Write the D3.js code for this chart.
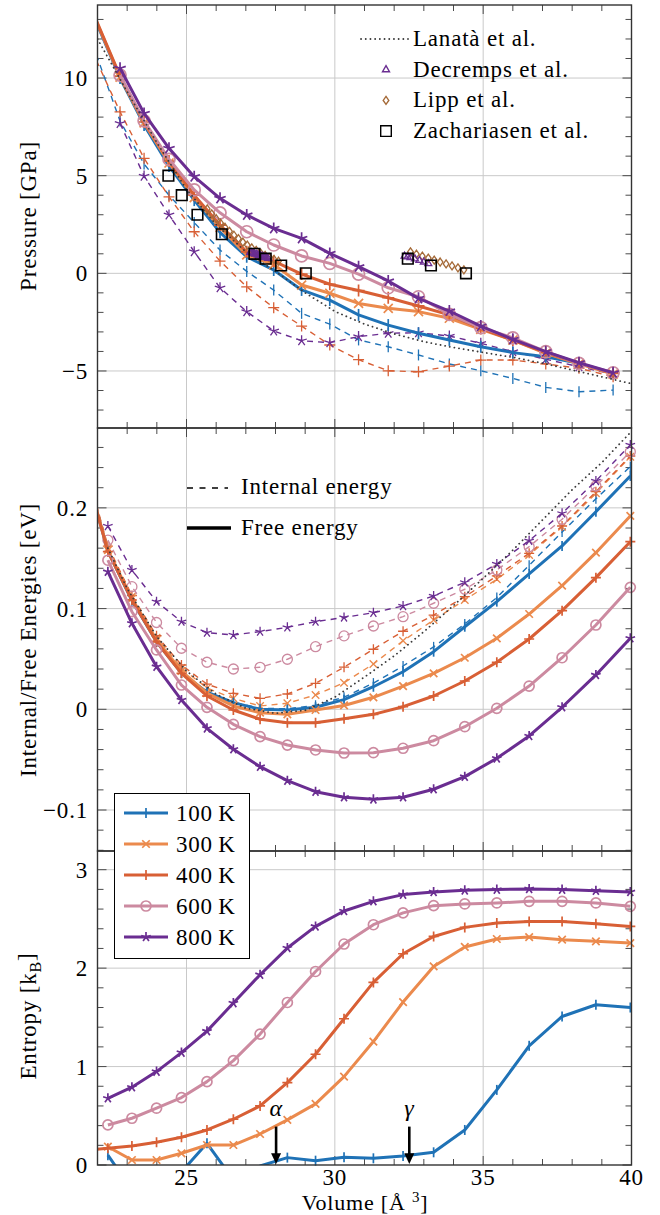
<!DOCTYPE html>
<html>
<head>
<meta charset="utf-8">
<script src="https://cdn.jsdelivr.net/npm/d3@7"></script>
</head>
<body style="margin:0;background:#fff">
<svg id="chart" width="660" height="1215"></svg>
<script>
// ---- data -------------------------------------------------------------
// volume grid (A^3) of the energies / entropy, first point lies left of the axis
const volumes = [21.57, 22.35, 23.16, 23.99, 24.83, 25.69, 26.58, 27.48, 28.40, 29.35,
                 30.31, 31.30, 32.30, 33.33, 34.38, 35.46, 36.55, 37.66, 38.80, 39.96];
// pressures are taken between grid points
const pressureVolumes = [21.96, 22.76, 23.57, 24.41, 25.26, 26.13, 27.03, 27.94, 28.88, 29.83,
                         30.80, 31.80, 32.82, 33.86, 34.92, 36.00, 37.11, 38.23, 39.38];

const tempLabels = ["100\u2009K", "300\u2009K", "400\u2009K", "600\u2009K", "800\u2009K"];
const tempColors = ["#1f72b6", "#eb8a4d", "#d85f35", "#cc8aa0", "#6a2d91"];
const tempMarks  = ["bar", "x", "plus", "circle", "star"];

// pressure from free energy (solid) [GPa]
const pFree100 = [12.85, 10.0, 7.6, 5.5, 3.75, 2.1, 0.85, 0.17, -0.85, -1.37, -2.13, -2.65, -3.07, -3.41, -3.76, -4.06, -4.27, -4.61, -5.12];
const pFree300 = [12.9, 10.05, 7.7, 5.65, 3.88, 2.35, 0.94, 0.45, -0.60, -1.02, -1.54, -1.79, -1.96, -2.30, -2.87, -3.42, -4.10, -4.64, -5.16];
const pFree400 = [12.95, 10.1, 7.75, 5.75, 4.0, 2.47, 1.1, 0.62, -0.04, -0.56, -0.88, -1.25, -1.67, -2.13, -2.82, -3.42, -4.06, -4.61, -5.12];
const pFree600 = [null, 10.15, 7.81, 5.84, 4.27, 3.10, 2.13, 1.45, 0.89, 0.51, -0.04, -0.74, -1.20, -2.10, -2.78, -3.30, -4.01, -4.61, -5.09];
const pFree800 = [null, 10.50, 8.19, 6.40, 4.95, 3.84, 2.99, 2.30, 1.79, 1.02, 0.34, -0.39, -1.28, -1.93, -2.70, -3.38, -4.01, -4.58, -5.09];
// pressure from internal energy (dashed) [GPa]
const pInt100 = [11.2, 7.8, 5.6, 4.0, 2.6, 1.19, 0.1, -0.86, -2.05, -2.6, -3.41, -3.76, -4.18, -4.64, -4.99, -5.38, -5.84, -6.06, -5.98];
const pInt400 = [10.9, 8.27, 5.89, 3.92, 2.13, 0.63, -0.69, -1.76, -2.70, -3.67, -4.42, -4.99, -5.04, -4.75, -4.44, -4.44, -4.64, -4.86, -5.29];
const pInt800 = [null, 7.68, 4.98, 2.99, 1.11, -0.74, -1.96, -2.95, -3.45, -3.55, -3.24, -3.07, -3.04, -3.21, -3.58, -4.01, -4.40, -4.78, -5.16];

// free energies (solid) [eV]
const f100 = [0.24, 0.157, 0.108, 0.067, 0.036, 0.017, 0.0066, 0.0, -0.0007, 0.002, 0.0096, 0.0224, 0.0373, 0.0572, 0.082, 0.1069, 0.1344, 0.1622, 0.1962, 0.2317];
const f300 = [0.24, 0.158, 0.110, 0.069, 0.038, 0.016, 0.0033, -0.0034, -0.005, -0.0007, 0.0038, 0.0119, 0.0231, 0.0357, 0.0512, 0.0705, 0.0946, 0.1227, 0.1555, 0.1920];
const f400 = [0.24, 0.1565, 0.1085, 0.0671, 0.0357, 0.0132, -0.0007, -0.0099, -0.0133, -0.0133, -0.0094, -0.005, 0.0026, 0.0132, 0.0281, 0.0467, 0.0698, 0.0979, 0.1307, 0.1664];
const f600 = [null, 0.148, 0.0969, 0.0589, 0.0241, 0.0020, -0.0149, -0.0272, -0.0355, -0.0404, -0.0434, -0.0431, -0.0387, -0.0312, -0.0173, 0.0010, 0.0231, 0.0512, 0.0837, 0.1211];
const f800 = [null, 0.1366, 0.0854, 0.0423, 0.0092, -0.0189, -0.0397, -0.057, -0.0709, -0.0818, -0.0874, -0.0894, -0.0874, -0.0794, -0.0669, -0.0487, -0.0265, 0.0020, 0.0341, 0.0705];
// internal energies (dashed) [eV]
const u100 = [0.245, 0.157, 0.108, 0.067, 0.036, 0.017, 0.007, 0.001, 0.0005, 0.004, 0.012, 0.026, 0.043, 0.062, 0.0847, 0.111, 0.143, 0.176, 0.209, 0.241];
const u300 = [0.245, 0.16, 0.112, 0.071, 0.041, 0.021, 0.0109, 0.0033, 0.006, 0.0142, 0.0264, 0.045, 0.068, 0.0887, 0.1085, 0.1291, 0.1532, 0.1813, 0.2145, 0.2508];
const u400 = [0.245, 0.162, 0.113, 0.073, 0.044, 0.025, 0.0159, 0.0109, 0.0152, 0.0258, 0.0418, 0.0596, 0.0775, 0.0936, 0.1118, 0.1324, 0.1549, 0.182, 0.2161, 0.2515];
const u600 = [null, 0.168, 0.1218, 0.0862, 0.0606, 0.0467, 0.040, 0.0417, 0.0497, 0.0622, 0.0729, 0.0827, 0.092, 0.1053, 0.1192, 0.1383, 0.1615, 0.1887, 0.2217, 0.2558];
const u800 = [null, 0.182, 0.1383, 0.1069, 0.087, 0.0761, 0.0738, 0.0771, 0.0814, 0.087, 0.0912, 0.0959, 0.1026, 0.1125, 0.1261, 0.1443, 0.1674, 0.1946, 0.2267, 0.2625];

// entropy [k_B]
const s100 = [null, 0.10, -0.25, -0.15, -0.07, 0.22, -0.15, -0.01, 0.075, 0.044, 0.078, 0.068, 0.092, 0.129, 0.356, 0.763, 1.211, 1.509, 1.628, 1.60];
const s300 = [null, 0.186, 0.051, 0.051, 0.119, 0.203, 0.203, 0.315, 0.458, 0.621, 0.898, 1.254, 1.655, 2.017, 2.215, 2.296, 2.316, 2.289, 2.272, 2.255];
const s400 = [0.15, 0.17, 0.193, 0.231, 0.282, 0.356, 0.465, 0.60, 0.837, 1.125, 1.486, 1.855, 2.146, 2.322, 2.414, 2.459, 2.475, 2.475, 2.452, 2.424];
const s600 = [null, 0.407, 0.475, 0.577, 0.685, 0.847, 1.061, 1.33, 1.651, 1.966, 2.245, 2.441, 2.561, 2.635, 2.652, 2.662, 2.679, 2.679, 2.662, 2.628];
const s800 = [null, 0.678, 0.79, 0.949, 1.142, 1.36, 1.645, 1.933, 2.204, 2.424, 2.58, 2.679, 2.747, 2.774, 2.79, 2.798, 2.805, 2.798, 2.787, 2.774];

// Lanata et al.
const lanataPV = [22, 23, 24, 25, 26, 27, 28, 29, 30, 31, 32, 33, 34, 35, 36, 37, 38, 39, 40];
const lanataP  = [12.0, 9.3, 6.7, 4.3, 2.5, 1.1, 0.1, -1.0, -1.95, -2.6, -3.1, -3.5, -3.8, -4.05, -4.3, -4.6, -4.95, -5.3, -5.65];
const lanataEV = [22.35, 23, 24, 25, 26, 27, 28, 29, 30, 31, 32, 33, 34, 35, 36, 37, 38, 39, 40];
const lanataE  = [0.16, 0.12, 0.072, 0.038, 0.015, 0.001, -0.004, -0.001, 0.012, 0.032, 0.053, 0.077, 0.103, 0.13, 0.158, 0.188, 0.218, 0.245, 0.276];

// experiments
const zachV = [24.39, 24.84, 25.37, 26.19, 27.29, 27.67, 28.19, 29.02, 32.46, 33.24, 34.42];
const zachP = [5.0, 4.0, 3.0, 2.0, 1.0, 0.75, 0.4, 0.0, 0.75, 0.4, 0.0];
const decrV = [27.15, 27.2, 27.25, 27.3, 27.35, 27.4, 27.45, 27.5, 27.55, 27.6, 27.65, 27.7, 27.75, 32.35, 32.45, 32.55, 32.7, 32.85, 33.0, 33.15];
const decrP = [1.08, 1.06, 1.03, 1.0, 0.98, 0.95, 0.92, 0.9, 0.87, 0.85, 0.82, 0.8, 0.77, 0.88, 0.84, 0.8, 0.74, 0.66, 0.58, 0.5];
const lippV = [25.70, 25.85, 26.00, 26.15, 26.30, 26.45, 26.60, 26.75, 26.90, 27.05, 27.20, 27.35, 27.50, 27.65, 27.80, 27.95, 28.10,
               32.55, 32.75, 32.95, 33.15, 33.35, 33.55, 33.75, 33.95, 34.15, 34.35];
const lippP = [3.30, 3.05, 2.80, 2.57, 2.35, 2.15, 1.95, 1.78, 1.60, 1.45, 1.30, 1.17, 1.04, 0.92, 0.81, 0.71, 0.62,
               1.10, 0.98, 0.88, 0.78, 0.68, 0.58, 0.48, 0.38, 0.28, 0.18];

const phaseNames = ["\u03b1", "\u03b3"];
const phaseVolumes = [28.02, 32.51];

// ---- layout -------------------------------------------------------------
const svg = d3.select("#chart");
const x = d3.scaleLinear().domain([22, 40]).range([97.5, 631.5]);
const xMajor = [25, 30, 35, 40];
const xMinor = d3.range(23, 40).filter(v => v % 5 !== 0);

const panels = [
  { name: "p", y: d3.scaleLinear().domain([-7.92, 13.74]).range([428, 5]),
    major: [-5, 0, 5, 10], minor: d3.range(-7, 14).filter(v => v % 5 !== 0),
    fmt: d => d < 0 ? "\u2212" + Math.abs(d) : "" + d },
  { name: "e", y: d3.scaleLinear().domain([-0.1407, 0.2793]).range([851, 428]),
    major: [-0.1, 0, 0.1, 0.2], minor: d3.range(-7, 14).filter(v => v % 5 !== 0).map(v => v * 0.02),
    fmt: d => d < 0 ? "\u2212" + Math.abs(d) : "" + d },
  { name: "s", y: d3.scaleLinear().domain([0, 3.19]).range([1165, 851]),
    major: [0, 1, 2, 3], minor: d3.range(1, 16).filter(v => v % 5 !== 0).map(v => v * 0.2),
    fmt: d => "" + d }
];

const defs = svg.append("defs");
panels.forEach(p => {
  const [b, t] = p.y.range();
  defs.append("clipPath").attr("id", "clip-" + p.name)
    .append("rect").attr("x", x(22)).attr("y", t).attr("width", x(40) - x(22)).attr("height", b - t);
});

// grid, ticks, tick labels
panels.forEach(p => {
  const [b, t] = p.y.range();
  const g = svg.append("g");
  g.selectAll(".gx").data([25, 30, 35]).join("line")
    .attr("x1", d => x(d)).attr("x2", d => x(d)).attr("y1", t).attr("y2", b)
    .attr("stroke", "#c9c9c9").attr("stroke-width", 1);
  g.selectAll(".gy").data(p.major.filter(v => p.y(v) > t + 1 && p.y(v) < b - 1)).join("line")
    .attr("x1", x(22)).attr("x2", x(40)).attr("y1", d => p.y(d)).attr("y2", d => p.y(d))
    .attr("stroke", "#c9c9c9").attr("stroke-width", 1);

  const tickCol = "#4a4a4a";
  [[xMajor, 9], [xMinor, 6]].forEach(([vals, len]) => {
    g.selectAll(null).data(vals).join("line")
      .attr("x1", d => x(d)).attr("x2", d => x(d)).attr("y1", b).attr("y2", b - len)
      .attr("stroke", tickCol).attr("stroke-width", 1);
    g.selectAll(null).data(vals).join("line")
      .attr("x1", d => x(d)).attr("x2", d => x(d)).attr("y1", t).attr("y2", t + len)
      .attr("stroke", tickCol).attr("stroke-width", 1);
  });
  [[p.major, 9], [p.minor, 6]].forEach(([vals, len]) => {
    const vv = vals.filter(v => p.y(v) >= t && p.y(v) <= b);
    g.selectAll(null).data(vv).join("line")
      .attr("x1", x(22)).attr("x2", x(22) + len).attr("y1", d => p.y(d)).attr("y2", d => p.y(d))
      .attr("stroke", tickCol).attr("stroke-width", 1);
    g.selectAll(null).data(vv).join("line")
      .attr("x1", x(40)).attr("x2", x(40) - len).attr("y1", d => p.y(d)).attr("y2", d => p.y(d))
      .attr("stroke", tickCol).attr("stroke-width", 1);
  });

  g.selectAll(".yl").data(p.major).join("text")
    .attr("x", 88).attr("y", d => p.y(d)).attr("dy", "0.35em")
    .attr("text-anchor", "end").attr("font-size", 23)
    .text(p.fmt);
});

// ---- marks ------------------------------------------------------------
function markPath(type, r) {
  if (type === "bar") return `M0,${-r}V${r}`;
  if (type === "plus") return `M${-r},0H${r}M0,${-r}V${r}`;
  if (type === "x") { const a = r * 0.75; return `M${-a},${-a}L${a},${a}M${-a},${a}L${a},${-a}`; }
  if (type === "star") {
    let s = "";
    for (let k = 0; k < 5; k++) {
      const ang = -Math.PI / 2 + k * 2 * Math.PI / 5;
      s += `M0,0L${(r * Math.cos(ang)).toFixed(2)},${(r * Math.sin(ang)).toFixed(2)}`;
    }
    return s;
  }
  if (type === "square") return `M${-r},${-r}H${r}V${r}H${-r}Z`;
  if (type === "diamond") return `M0,${-r}L${r * 0.7},0L0,${r}L${-r * 0.7},0Z`;
  if (type === "triangle") return `M0,${-r}L${r * 0.87},${r * 0.5}L${-r * 0.87},${r * 0.5}Z`;
  if (type === "circle") return d3.symbol().type(d3.symbolCircle).size(Math.PI * r * r)();
  return "";
}

function drawMarks(g, xs, ys, yScale, type, r, color, sw) {
  const [lo, hi] = yScale.domain();
  const pts = xs.map((v, i) => [v, ys[i]])
    .filter(d => d[1] != null && d[0] >= 22 && d[0] <= 40 && d[1] >= lo && d[1] <= hi);
  g.selectAll(null).data(pts).join("path")
    .attr("transform", d => `translate(${x(d[0])},${yScale(d[1])})`)
    .attr("d", markPath(type, r))
    .attr("fill", "none").attr("stroke", color).attr("stroke-width", sw);
}

function drawSeries(p, xs, ys, color, type, dashed, r) {
  const g = svg.append("g");
  const pts = xs.map((v, i) => [v, ys[i]]);
  g.append("path")
    .attr("clip-path", `url(#clip-${p.name})`)
    .attr("d", d3.line().defined(d => d[1] != null).x(d => x(d[0])).y(d => p.y(d[1]))(pts))
    .attr("fill", "none").attr("stroke", color)
    .attr("stroke-width", dashed ? 1.4 : 3)
    .attr("stroke-dasharray", dashed ? "6,5" : null)
    .attr("stroke-linejoin", "round");
  drawMarks(g, xs, ys, p.y, type, r, color, dashed ? 1.3 : 1.7);
}

function drawDotted(p, xs, ys) {
  const pts = xs.map((v, i) => [v, ys[i]]);
  svg.append("path")
    .attr("clip-path", `url(#clip-${p.name})`)
    .attr("d", d3.line().x(d => x(d[0])).y(d => p.y(d[1]))(pts))
    .attr("fill", "none").attr("stroke", "#3a3a3a").attr("stroke-width", 1.8)
    .attr("stroke-dasharray", "0.1,4.6").attr("stroke-linecap", "round");
}

// pressure panel
const P = panels[0];
[[pInt100, 0], [pInt400, 2], [pInt800, 4]].forEach(([ys, i]) =>
  drawSeries(P, pressureVolumes, ys, tempColors[i], tempMarks[i], true, 5.5));
[pFree100, pFree300, pFree400, pFree600, pFree800].forEach((ys, i) =>
  drawSeries(P, pressureVolumes, ys, tempColors[i], tempMarks[i], false, 6));
drawDotted(P, lanataPV, lanataP);
const expG = svg.append("g");
drawMarks(expG, lippV, lippP, P.y, "diamond", 4, "#a56a38", 1.3);
drawMarks(expG, decrV, decrP, P.y, "triangle", 4, "#6a2d91", 1.3);
drawMarks(expG, zachV, zachP, P.y, "square", 5.3, "#000", 1.6);

// energy panel
const E = panels[1];
[u100, u300, u400, u600, u800].forEach((ys, i) =>
  drawSeries(E, volumes, ys, tempColors[i], tempMarks[i], true, 5));
[f100, f300, f400, f600, f800].forEach((ys, i) =>
  drawSeries(E, volumes, ys, tempColors[i], tempMarks[i], false, 5));
drawDotted(E, lanataEV, lanataE);

// entropy panel
const S = panels[2];
[s100, s300, s400, s600, s800].forEach((ys, i) =>
  drawSeries(S, volumes, ys, tempColors[i], tempMarks[i], false, 5));

// phase arrows
phaseVolumes.forEach((v, i) => {
  const ax = x(v);
  svg.append("line").attr("x1", ax).attr("x2", ax)
    .attr("y1", S.y(0.39)).attr("y2", S.y(0.1))
    .attr("stroke", "#000").attr("stroke-width", 2.6);
  svg.append("path")
    .attr("d", `M${ax - 5},${S.y(0.12)}L${ax + 5},${S.y(0.12)}L${ax},${S.y(0.01)}Z`)
    .attr("fill", "#000");
  svg.append("text").attr("x", ax).attr("y", S.y(0.5))
    .attr("text-anchor", "middle").attr("font-size", 24).attr("font-style", "italic")
    .text(phaseNames[i]);
});

// frames on top
panels.forEach(p => {
  const [b, t] = p.y.range();
  svg.append("rect").attr("x", x(22)).attr("y", t).attr("width", x(40) - x(22)).attr("height", b - t)
    .attr("fill", "none").attr("stroke", "#333").attr("stroke-width", 1.4);
});

// x tick labels
svg.selectAll(".xl").data(xMajor).join("text")
  .attr("x", d => x(d)).attr("y", 1185).attr("text-anchor", "middle").attr("font-size", 23)
  .text(d => d);

// axis labels
const ylab = (cx, cy) => svg.append("text")
  .attr("transform", `translate(${cx},${cy}) rotate(-90)`)
  .attr("text-anchor", "middle").attr("dy", "0.35em").attr("font-size", 23);
ylab(28, 216).text("Pressure [GPa]");
ylab(28, 640).text("Internal/Free Energies [eV]");
const sl = ylab(28, 1016);
sl.append("tspan").text("Entropy [k");
sl.append("tspan").attr("font-size", 16).attr("dy", "0.3em").text("B");
sl.append("tspan").attr("dy", "-0.3em").text("]");
const vl = svg.append("text").attr("x", 365).attr("y", 1210).attr("text-anchor", "middle").attr("font-size", 22);
vl.append("tspan").text("Volume [\u00c5 ");
vl.append("tspan").attr("font-size", 15).attr("dy", -8).text("3");
vl.append("tspan").attr("dy", 8).text("]");

// ---- legends ------------------------------------------------------------
// references legend
svg.append("line").attr("x1", 361).attr("x2", 408).attr("y1", 39).attr("y2", 39)
  .attr("stroke", "#3a3a3a").attr("stroke-width", 1.8).attr("stroke-dasharray", "0.1,4.6").attr("stroke-linecap", "round");
const refNames = ["Lanat\u00e0 et al.", "Decremps et al.", "Lipp et al.", "Zachariasen et al."];
const refMarks = [null, ["triangle", 4, "#6a2d91"], ["diamond", 4, "#a56a38"], ["square", 5.3, "#000"]];
refNames.forEach((n, i) => {
  const cy = 39 + i * 30.7;
  svg.append("text").attr("x", 413).attr("y", cy + 7).attr("font-size", 23).text(n);
  if (refMarks[i]) {
    svg.append("path").attr("transform", `translate(386,${cy})`)
      .attr("d", markPath(refMarks[i][0], refMarks[i][1]))
      .attr("fill", "none").attr("stroke", refMarks[i][2]).attr("stroke-width", 1.4);
  }
});

// energy style legend
svg.append("line").attr("x1", 187).attr("x2", 228).attr("y1", 488).attr("y2", 488)
  .attr("stroke", "#000").attr("stroke-width", 1.4).attr("stroke-dasharray", "6,6.5");
svg.append("text").attr("x", 241).attr("y", 494).attr("font-size", 23).text("Internal energy");
svg.append("line").attr("x1", 187).attr("x2", 231).attr("y1", 528).attr("y2", 528)
  .attr("stroke", "#000").attr("stroke-width", 3.5);
svg.append("text").attr("x", 241).attr("y", 535).attr("font-size", 23).text("Free energy");

// temperature legend
const lg = svg.append("g");
lg.append("rect").attr("x", 114.5).attr("y", 793.5).attr("width", 135).attr("height", 165)
  .attr("fill", "#fff").attr("stroke", "#000").attr("stroke-width", 1);
tempLabels.forEach((t, i) => {
  const cy = 813 + i * 31;
  lg.append("line").attr("x1", 124).attr("x2", 168).attr("y1", cy).attr("y2", cy)
    .attr("stroke", tempColors[i]).attr("stroke-width", 3);
  lg.append("path").attr("transform", `translate(146,${cy})`)
    .attr("d", markPath(tempMarks[i], 5))
    .attr("fill", "none").attr("stroke", tempColors[i]).attr("stroke-width", 1.7);
  lg.append("text").attr("x", 176).attr("y", cy + 8).attr("font-size", 23).text(t);
});

// every text in the serif face, slightly spread like the TeX original
svg.selectAll("text").attr("font-family", "Liberation Serif").attr("letter-spacing", 0.8).attr("fill", "#000");
</script>
</body>
</html>
